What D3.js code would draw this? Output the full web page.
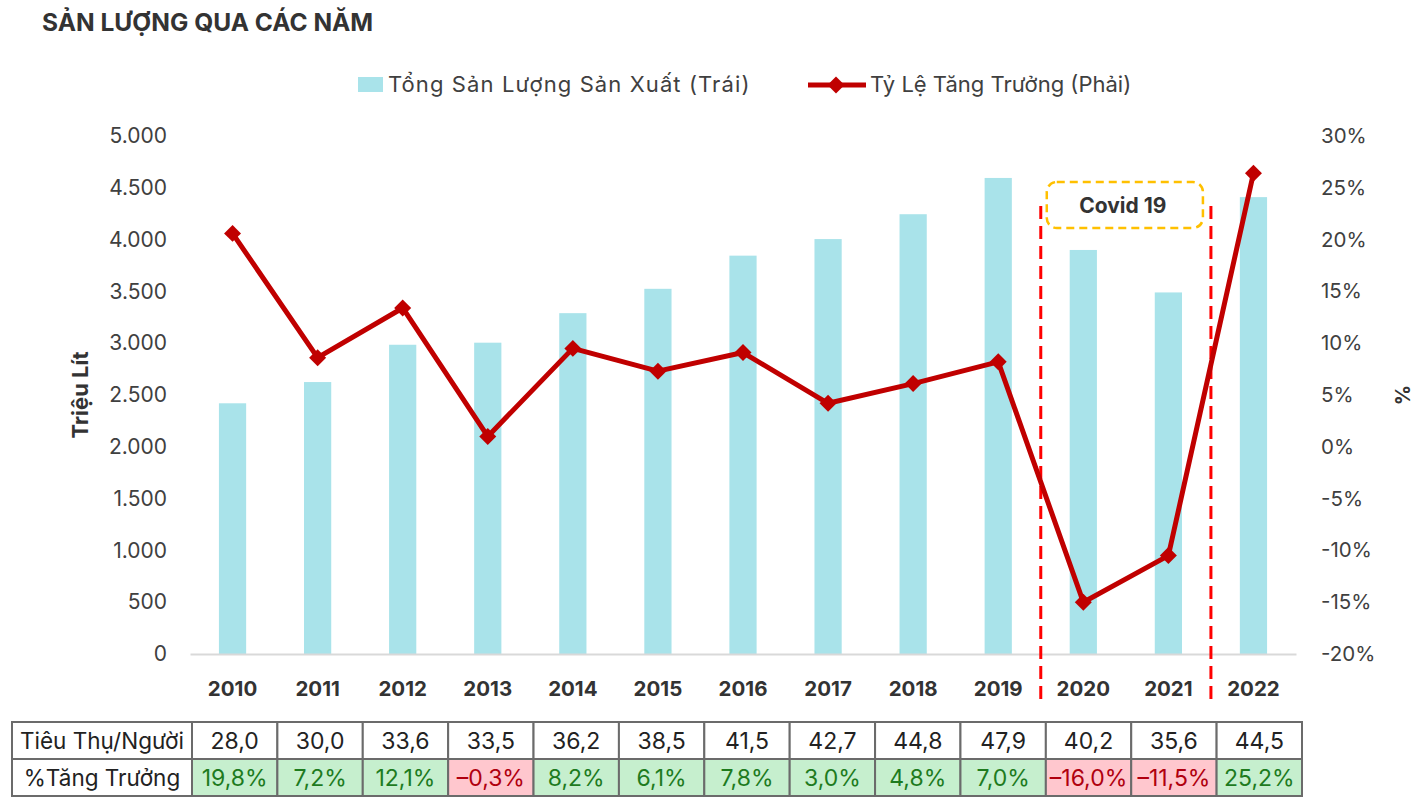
<!DOCTYPE html>
<html><head><meta charset="utf-8">
<script src="https://cdn.jsdelivr.net/npm/d3@7"></script>
<style>body{margin:0;background:#fff}svg{display:block;font-family:Inter,"Noto Sans",sans-serif}</style>
</head><body>
<script>
const years = ["2010","2011","2012","2013","2014","2015","2016","2017","2018","2019","2020","2021","2022"];
const production = [2420,2625,2985,3005,3290,3525,3845,4005,4245,4595,3900,3490,4410];
const growthLine = [20.6,8.6,13.4,1.0,9.5,7.3,9.1,4.2,6.1,8.2,-15.0,-10.5,26.4];
const leftTicks = [0,500,1000,1500,2000,2500,3000,3500,4000,4500,5000];
const rightTicks = [-20,-15,-10,-5,0,5,10,15,20,25,30];
const perCapita = ["28,0","30,0","33,6","33,5","36,2","38,5","41,5","42,7","44,8","47,9","40,2","35,6","44,5"];
const growthPct = ["19,8%","7,2%","12,1%","-0,3%","8,2%","6,1%","7,8%","3,0%","4,8%","7,0%","-16,0%","-11,5%","25,2%"];
const growthSign = [1,1,1,-1,1,1,1,1,1,1,-1,-1,1];
const covidYears = ["2020","2021"];

const FF="Inter,'Noto Sans',sans-serif";
const W=1428,H=807;
const svg=d3.select("body").append("svg").attr("width",W).attr("height",H);
const L=190,R=1296,T=136,B=654;
const x=d3.scaleBand().domain(years).range([L,R]).paddingInner(0.68).paddingOuter(0.34);
const yL=d3.scaleLinear().domain([0,5000]).range([B,T]);
const yR=d3.scaleLinear().domain([-20,30]).range([B,T]);
const fmtN=d3.formatLocale({decimal:",",thousands:".",grouping:[3],currency:["",""]}).format(",d");

// title
svg.append("text").attr("x",42).attr("y",31).attr("font-size",24.5).attr("font-weight",700).attr("fill","#333").text("SẢN LƯỢNG QUA CÁC NĂM");

// legend
svg.append("rect").attr("x",358).attr("y",77).attr("width",25).attr("height",15).attr("fill","#A9E3EA");
svg.append("text").attr("x",388).attr("y",92).attr("font-size",22).attr("letter-spacing",1.1).attr("fill","#404040").text("Tổng Sản Lượng Sản Xuất (Trái)");
svg.append("line").attr("x1",808).attr("x2",866).attr("y1",85).attr("y2",85).attr("stroke","#C00000").attr("stroke-width",5);
svg.append("rect").attr("x",-6).attr("y",-6).attr("width",12).attr("height",12).attr("transform","translate(836,85) rotate(45)").attr("fill","#C00000");
svg.append("text").attr("x",870).attr("y",92).attr("font-size",22).attr("fill","#404040").text("Tỷ Lệ Tăng Trưởng (Phải)");

// axes
const gl=svg.append("g").attr("transform",`translate(${L-23},0)`).call(d3.axisLeft(yL).tickValues(leftTicks).tickSize(0).tickPadding(0).tickFormat(fmtN));
gl.select(".domain").remove();
gl.selectAll("text").attr("font-size",21).attr("fill","#404040").attr("font-family",FF);
const gr=svg.append("g").attr("transform",`translate(${R+25},0)`).call(d3.axisRight(yR).tickValues(rightTicks).tickSize(0).tickPadding(0).tickFormat(d=>d+"%"));
gr.select(".domain").remove();
gr.selectAll("text").attr("font-size",20.5).attr("fill","#404040").attr("font-family",FF);

svg.append("text").attr("transform","translate(88,395) rotate(-90)").attr("text-anchor","middle").attr("font-size",22).attr("font-weight",700).attr("fill","#333").text("Triệu Lít");
svg.append("text").attr("transform","translate(1410,395) rotate(-90)").attr("text-anchor","middle").attr("font-size",20).attr("font-weight",700).attr("fill","#333").text("%");

// bars
svg.append("g").selectAll("rect").data(years).join("rect")
 .attr("x",d=>x(d)).attr("width",x.bandwidth())
 .attr("y",(d,i)=>yL(production[i])).attr("height",(d,i)=>B-yL(production[i]))
 .attr("fill","#A9E3EA");

// x axis
const gx=svg.append("g").attr("transform",`translate(0,${B})`).call(d3.axisBottom(x).tickSize(0).tickPadding(0));
gx.select(".domain").attr("stroke","#D9D9D9").attr("stroke-width",2);
gx.selectAll("text").attr("y",35).attr("dy","0.35em").attr("font-size",20.5).attr("font-weight",700).attr("fill","#333").attr("font-family",FF);

// covid markers
const step=x.step();
const xa=x(covidYears[0])+x.bandwidth()/2-step/2;
const xb=x(covidYears[covidYears.length-1])+x.bandwidth()/2+step/2;
[xa,xb].forEach(v=>svg.append("line").attr("x1",v).attr("x2",v).attr("y1",206).attr("y2",706)
  .attr("stroke","#FF0000").attr("stroke-width",3).attr("stroke-dasharray","13,7"));
svg.append("rect").attr("x",xa+6).attr("y",182).attr("width",xb-xa-14).attr("height",46).attr("rx",10)
  .attr("fill","#fff").attr("stroke","#FFC000").attr("stroke-width",2.5).attr("stroke-dasharray","8,5");
svg.append("text").attr("x",(xa+xb)/2-3).attr("y",213).attr("text-anchor","middle").attr("font-size",21).attr("font-weight",700).attr("fill","#333").text("Covid 19");

// line
const cx=d=>x(d)+x.bandwidth()/2;
svg.append("path").datum(years).attr("fill","none").attr("stroke","#C00000").attr("stroke-width",5).attr("stroke-linejoin","round")
 .attr("d",d3.line().x(d=>cx(d)).y((d,i)=>yR(growthLine[i])));
svg.append("g").selectAll("rect").data(years).join("rect")
 .attr("x",-6).attr("y",-6).attr("width",12).attr("height",12)
 .attr("transform",(d,i)=>`translate(${cx(d)},${yR(growthLine[i])}) rotate(45)`).attr("fill","#C00000");

// table
const xt=d3.scaleBand().domain(years).range([192,1302]);
const rows=[{y:722,h:37,label:"Tiêu Thụ/Người",vals:perCapita,type:0},{y:759,h:37,label:"%Tăng Trưởng",vals:growthPct,type:1}];
const tg=svg.append("g");
rows.forEach(r=>{
  tg.append("rect").attr("x",12).attr("y",r.y).attr("width",180).attr("height",r.h).attr("fill","#fff").attr("stroke","#6B6B6B").attr("stroke-width",2);
  tg.append("text").attr("x",102).attr("y",r.y+r.h/2).attr("dy","0.36em").attr("text-anchor","middle").attr("font-size",22.5).attr("fill","#222").text(r.label);
  years.forEach((yr,i)=>{
    const pos=growthSign[i]>0;
    const fill=r.type===0?"#fff":(pos?"#C6EFCE":"#FFC7CE");
    const col=r.type===0?"#222":(pos?"#1E7B1E":"#B0000F");
    tg.append("rect").attr("x",xt(yr)).attr("y",r.y).attr("width",xt.bandwidth()).attr("height",r.h).attr("fill",fill).attr("stroke","#6B6B6B").attr("stroke-width",2);
    tg.append("text").attr("x",xt(yr)+xt.bandwidth()/2).attr("y",r.y+r.h/2).attr("dy","0.36em").attr("text-anchor","middle").attr("font-size",23).attr("fill",col).text(r.vals[i].replace("-","–"));
  });
});
</script>
</body></html>
